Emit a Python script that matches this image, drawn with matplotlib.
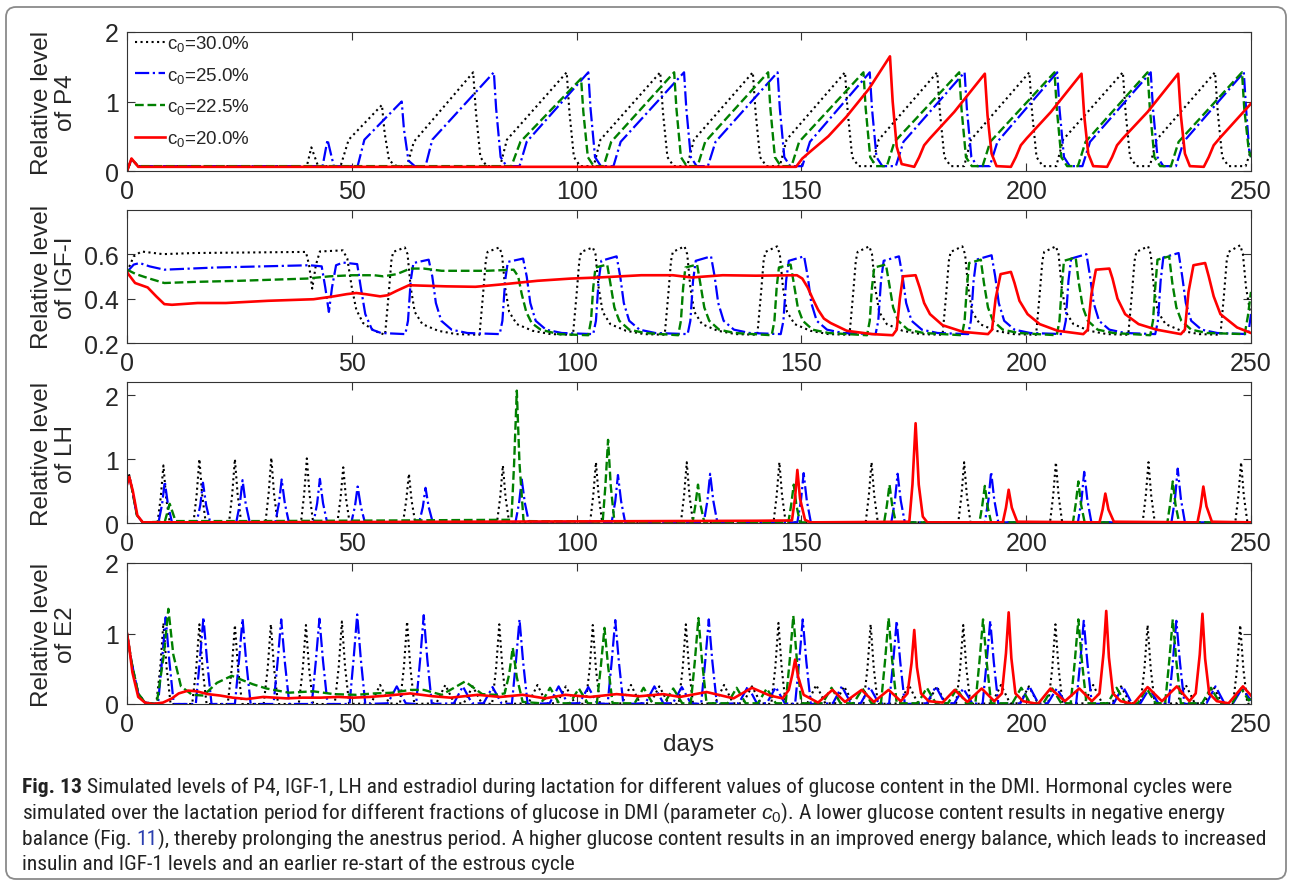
import matplotlib
matplotlib.use('Agg')
import matplotlib.pyplot as plt
from matplotlib.patches import FancyBboxPatch
from matplotlib.transforms import IdentityTransform
from matplotlib import font_manager as fm

# ---------------- data ----------------
series_labels = ['c$_0$=30.0%', 'c$_0$=25.0%', 'c$_0$=22.5%', 'c$_0$=20.0%']
panel_ylabels = ['Relative level\nof P4', 'Relative level\nof IGF-I',
                 'Relative level\nof LH', 'Relative level\nof E2']
x_ticks = [0, 50, 100, 150, 200, 250]
y_ticks = [[0, 1, 2], [0.2, 0.4, 0.6], [0, 1, 2], [0, 1, 2]]
y_ticklabels = [['0', '1', '2'], ['0.2', '0.4', '0.6'], ['0', '1', '2'], ['0', '1', '2']]
y_limits = [(0, 2), (0.2, 0.8), (0, 2.2), (0, 2)]
x_label = 'days'

# P4 (day, level)
p4_c30 = [(0,0),(1,0.17),(2.5,0.07),(40,0.07),(41,0.34),(42.5,0.07),(47.5,0.07),(49.3,0.45),(56.7,0.95),(57.3,0.55),(58.3,0.15),(60,0.07),(62.3,0.07),(63.8,0.42),
(77.0,1.42),(77.6,0.85),(78.6,0.2),(80.0,0.07),(83.0,0.07),(84.5,0.45),
(97.8,1.42),(98.4,0.85),(99.4,0.2),(100.8,0.07),(103.8,0.07),(105.3,0.45),
(118.6,1.42),(119.2,0.85),(120.2,0.2),(121.6,0.07),(124.6,0.07),(126.1,0.45),
(139.2,1.42),(139.8,0.85),(140.8,0.2),(142.2,0.07),(145.2,0.07),(146.7,0.45),
(159.7,1.42),(160.3,0.85),(161.3,0.2),(162.7,0.07),(165.7,0.07),(167.2,0.45),
(180.2,1.42),(180.8,0.85),(181.8,0.2),(183.2,0.07),(186.2,0.07),(187.7,0.45),
(200.7,1.42),(201.3,0.85),(202.3,0.2),(203.7,0.07),(206.7,0.07),(208.2,0.45),
(221.5,1.42),(222.1,0.85),(223.1,0.2),(224.5,0.07),(227.5,0.07),(229.0,0.45),
(242.0,1.42),(242.6,0.85),(243.6,0.2),(245.0,0.07),(248.8,0.07),(250,0.3)]
p4_c25 = [(0,0),(1,0.17),(2.5,0.07),(43.5,0.07),(44.6,0.45),(46.0,0.07),(51.3,0.07),(52.8,0.45),(61.1,1.0),(61.6,0.6),(62.6,0.15),(64.0,0.07),(66.4,0.07),(67.9,0.45),
(81.6,1.42),(82.1,0.9),(83.1,0.2),(84.4,0.07),(87.3,0.07),(88.9,0.42),
(102.6,1.42),(103.1,0.9),(104.1,0.2),(105.4,0.07),(108.2,0.07),(109.8,0.42),
(123.9,1.42),(124.4,0.9),(125.4,0.2),(126.7,0.07),(129.2,0.07),(130.9,0.42),
(144.7,1.42),(145.2,0.9),(146.2,0.2),(147.5,0.07),(150.2,0.07),(151.9,0.42),
(165.2,1.42),(165.7,0.9),(166.7,0.2),(168.0,0.07),(171.0,0.07),(172.7,0.42),
(186.3,1.42),(186.8,0.9),(187.8,0.2),(189.1,0.07),(191.9,0.07),(193.6,0.42),
(206.9,1.42),(207.4,0.9),(208.4,0.2),(209.7,0.07),(212.5,0.07),(214.2,0.42),
(227.7,1.42),(228.2,0.9),(229.2,0.2),(230.5,0.07),(233.3,0.07),(235.0,0.42),
(248.4,1.42),(248.9,0.9),(249.6,0.3),(250,0.2)]
p4_c225 = [(0,0),(1,0.17),(2.5,0.07),(85.5,0.07),(87.5,0.42),(101.0,1.33),(101.5,0.85),(102.5,0.2),(103.8,0.07),(106.0,0.07),(107.7,0.42),
(121.7,1.42),(122.2,0.9),(123.2,0.2),(124.5,0.07),(126.9,0.07),(128.6,0.42),
(142.6,1.42),(143.1,0.9),(144.1,0.2),(145.4,0.07),(147.8,0.07),(149.5,0.42),
(163.8,1.42),(164.3,0.9),(165.3,0.2),(166.6,0.07),(169.0,0.07),(170.7,0.42),
(185.1,1.42),(185.6,0.9),(186.6,0.2),(187.9,0.07),(190.3,0.07),(192.0,0.42),
(206.3,1.42),(206.8,0.9),(207.8,0.2),(209.1,0.07),(211.5,0.07),(213.2,0.42),
(227.0,1.42),(227.5,0.9),(228.5,0.2),(229.8,0.07),(232.2,0.07),(233.9,0.42),
(248.0,1.42),(248.5,0.9),(249.5,0.3),(250,0.2)]
p4_c20 = [(0,0),(1,0.18),(2.5,0.06),(148.8,0.06),(150.2,0.18),(151.8,0.27),(156.0,0.5),(160.0,0.78),(165.0,1.18),(169.7,1.65),(170.3,1.0),(171.2,0.35),(172.3,0.1),(175.1,0.06),
(176.2,0.2),(177.3,0.37),(178.6,0.47),(184.0,0.85),(190.8,1.4),(191.4,0.8),(192.3,0.25),(193.4,0.07),(196.6,0.06),
(197.7,0.2),(198.8,0.37),(200.1,0.47),(205.5,0.85),(212.3,1.4),(212.9,0.8),(213.8,0.25),(214.9,0.07),(218.0,0.06),
(219.1,0.2),(220.2,0.37),(221.5,0.47),(227.0,0.85),(233.8,1.4),(234.4,0.8),(235.3,0.25),(236.4,0.07),(239.5,0.06),
(240.6,0.2),(241.7,0.37),(243.0,0.47),(250.0,0.97)]

# IGF-I (day, level)
igf_c30 = [(0,0.52),(1.5,0.59),(3.2,0.612),(8,0.6),(15,0.605),(39.8,0.61),(40.5,0.55),(41.2,0.445),(42,0.55),(42.9,0.612),(48,0.617),(49,0.58),(50,0.45),(51,0.35),(52.5,0.29),(55,0.255),
(57.4,0.237),(58.2,0.42),(58.8,0.57),(59.2,0.61),(61.8,0.63),(62.4,0.6),(63.1,0.45),(64.0,0.34),(65.7,0.285),(69.2,0.255),(73.2,0.24),
(78.4,0.237),(79.2,0.42),(79.8,0.57),(80.2,0.61),(82.8,0.63),(83.4,0.6),(84.1,0.45),(85.0,0.34),(86.7,0.285),(90.2,0.255),(94.2,0.24),
(99.2,0.237),(100.0,0.42),(100.6,0.57),(101.0,0.61),(103.6,0.63),(104.2,0.6),(104.9,0.45),(105.8,0.34),(107.5,0.285),(111.0,0.255),(115.0,0.24),
(119.6,0.237),(120.4,0.42),(121.0,0.57),(121.4,0.61),(124.0,0.635),(124.6,0.6),(125.3,0.45),(126.2,0.34),(127.9,0.285),(131.4,0.255),(135.4,0.24),
(140.2,0.237),(141.0,0.42),(141.6,0.57),(142.0,0.61),(144.6,0.635),(145.2,0.6),(145.9,0.45),(146.8,0.34),(148.5,0.285),(152.0,0.255),(156.0,0.24),
(160.7,0.237),(161.5,0.42),(162.1,0.57),(162.5,0.61),(165.1,0.635),(165.7,0.6),(166.4,0.45),(167.3,0.34),(169.0,0.285),(172.5,0.255),(176.5,0.24),
(181.4,0.237),(182.2,0.42),(182.8,0.57),(183.2,0.61),(185.8,0.635),(186.4,0.6),(187.1,0.45),(188.0,0.34),(189.7,0.285),(193.2,0.255),(197.2,0.24),
(202.2,0.237),(203.0,0.42),(203.6,0.57),(204.0,0.61),(206.6,0.635),(207.2,0.6),(207.9,0.45),(208.8,0.34),(210.5,0.285),(214.0,0.255),(218.0,0.24),
(222.7,0.237),(223.5,0.42),(224.1,0.57),(224.5,0.61),(227.1,0.635),(227.7,0.6),(228.4,0.45),(229.3,0.34),(231.0,0.285),(234.5,0.255),(238.5,0.24),
(243.2,0.237),(244.0,0.42),(244.6,0.57),(245.0,0.61),(247.6,0.64),(248.2,0.6),(248.9,0.45),(249.8,0.34),(250,0.33)]
igf_c25 = [(0,0.52),(1.5,0.553),(2.8,0.56),(5,0.545),(8.3,0.53),(20,0.54),(40.6,0.55),(43.3,0.545),(44.1,0.45),(44.9,0.34),(45.6,0.45),(46.5,0.55),(48,0.562),(51.2,0.555),(52,0.45),(53,0.33),(54.5,0.26),(56.5,0.245),
(61.9,0.24),(62.5,0.3),(63.1,0.48),(63.7,0.56),(67.1,0.575),(67.9,0.5),(68.7,0.38),(69.9,0.3),(72.2,0.26),(75.7,0.245),
(82.9,0.24),(83.5,0.3),(84.1,0.48),(84.7,0.565),(88.1,0.58),(88.9,0.5),(89.7,0.38),(90.9,0.3),(93.2,0.26),(96.7,0.245),
(103.7,0.24),(104.3,0.3),(104.9,0.48),(105.5,0.57),(108.9,0.59),(109.7,0.5),(110.5,0.38),(111.7,0.3),(114.0,0.26),(117.5,0.245),
(124.7,0.24),(125.3,0.3),(125.9,0.48),(126.5,0.57),(129.9,0.59),(130.7,0.5),(131.5,0.38),(132.7,0.3),(135.0,0.26),(138.5,0.245),
(145.4,0.24),(146.0,0.3),(146.6,0.48),(147.2,0.57),(150.6,0.59),(151.4,0.5),(152.2,0.38),(153.4,0.3),(155.7,0.26),(159.2,0.245),
(166.5,0.24),(167.1,0.3),(167.7,0.48),(168.3,0.57),(171.7,0.59),(172.5,0.5),(173.3,0.38),(174.5,0.3),(176.8,0.26),(180.3,0.245),
(187.1,0.24),(187.7,0.3),(188.3,0.48),(188.9,0.575),(192.3,0.595),(193.1,0.5),(193.9,0.38),(195.1,0.3),(197.4,0.26),(200.9,0.245),
(208.2,0.24),(208.8,0.3),(209.4,0.48),(210.0,0.58),(213.4,0.6),(214.2,0.5),(215.0,0.38),(216.2,0.3),(218.5,0.26),(222.0,0.245),
(228.7,0.24),(229.3,0.3),(229.9,0.48),(230.5,0.585),(233.9,0.605),(234.7,0.5),(235.5,0.38),(236.7,0.3),(239.0,0.26),(242.5,0.245),
(249.4,0.24),(250,0.33)]
igf_c225 = [(0,0.53),(2,0.51),(5,0.49),(8.3,0.47),(15,0.475),(25,0.48),(40,0.49),(45,0.5),(50,0.505),(55,0.505),(57,0.5),(60,0.51),(63,0.535),(66,0.535),(70,0.525),(80,0.525),(86,0.53),(87,0.5),(87.8,0.42),(88.8,0.34),(90,0.29),(92,0.26),(96,0.24),
(102.6,0.235),(103.2,0.3),(103.7,0.45),(104.2,0.54),(106.8,0.553),(107.5,0.47),(108.4,0.36),(109.5,0.3),(111.7,0.26),(115.2,0.245),
(122.6,0.235),(123.2,0.3),(123.7,0.45),(124.2,0.54),(126.8,0.553),(127.5,0.47),(128.4,0.36),(129.5,0.3),(131.7,0.26),(135.2,0.245),
(143.4,0.235),(144.0,0.3),(144.5,0.45),(145.0,0.54),(147.6,0.553),(148.3,0.47),(149.2,0.36),(150.3,0.3),(152.5,0.26),(156.0,0.245),
(164.6,0.235),(165.2,0.3),(165.7,0.45),(166.2,0.54),(168.8,0.553),(169.5,0.47),(170.4,0.36),(171.5,0.3),(173.7,0.26),(177.2,0.245),
(185.7,0.235),(186.3,0.3),(186.8,0.45),(187.3,0.56),(189.9,0.575),(190.6,0.47),(191.5,0.36),(192.6,0.3),(194.8,0.26),(198.3,0.245),
(206.8,0.235),(207.4,0.3),(207.9,0.45),(208.4,0.57),(211.0,0.585),(211.7,0.47),(212.6,0.36),(213.7,0.3),(215.9,0.26),(219.4,0.245),
(227.6,0.235),(228.2,0.3),(228.7,0.45),(229.2,0.575),(231.8,0.59),(232.5,0.47),(233.4,0.36),(234.5,0.3),(236.7,0.26),(240.2,0.245),
(248.6,0.24),(249.3,0.32),(250,0.43)]
igf_c20 = [(0,0.52),(0.3,0.51),(1.8,0.47),(4.6,0.45),(6.5,0.41),(8.3,0.375),(10,0.372),(15.7,0.38),(22,0.38),(31.4,0.39),(41.5,0.397),(46,0.41),(48.9,0.42),(51,0.425),(53,0.42),(56.3,0.41),(58,0.415),(60,0.435),(62.7,0.46),(66,0.458),(71,0.455),(77.5,0.453),(84,0.465),(91.3,0.48),(98.7,0.49),(105,0.495),(114.4,0.505),(121.4,0.505),(125.6,0.495),(132.5,0.505),(139.9,0.503),(149,0.505),(150.2,0.49),(151.4,0.45),(152.5,0.4),(153.7,0.35),(155,0.31),(156.5,0.29),(160.1,0.255),(165.7,0.24),(170.3,0.235),
(171.2,0.26),(171.9,0.4),(172.6,0.5),(175.4,0.505),(176.3,0.45),(177.3,0.38),(178.6,0.33),(181.4,0.28),(186,0.25),(191.5,0.24),
(192.4,0.26),(193.2,0.4),(194.3,0.51),(196.6,0.52),(197.4,0.47),(198.5,0.39),(200.3,0.33),(203,0.285),(207,0.255),(212.7,0.24),
(213.7,0.26),(214.5,0.42),(215.5,0.53),(218.5,0.535),(219.2,0.49),(220.3,0.4),(222,0.33),(225,0.285),(229,0.26),(234.4,0.24),
(235.3,0.26),(236.1,0.43),(237.2,0.55),(239.8,0.56),(240.6,0.5),(241.7,0.41),(243.2,0.33),(246.9,0.27),(250,0.245)]

# LH (day, level)
lh_c30 = [(0,0.65),(0.5,0.75),(1.2,0.5),(2.2,0.12),(3.5,0.01),
(6.8,0.01),(7.5,0.4),(8.1,0.9),(8.7,0.4),(9.5,0.01),
(14.8,0.01),(15.5,0.45),(16.1,1.0),(16.7,0.45),(17.5,0.01),
(22.7,0.01),(23.4,0.45),(24.0,1.0),(24.6,0.45),(25.4,0.01),
(30.8,0.01),(31.5,0.46),(32.1,1.02),(32.7,0.46),(33.5,0.01),
(38.7,0.01),(39.4,0.45),(40.0,1.01),(40.6,0.45),(41.4,0.01),
(46.8,0.01),(47.5,0.39),(48.1,0.87),(48.7,0.39),(49.5,0.01),
(61.4,0.01),(62.1,0.35),(62.7,0.77),(63.3,0.35),(64.1,0.01),
(82.3,0.01),(83.0,0.4),(83.6,0.9),(84.2,0.4),(85.0,0.01),
(103.0,0.01),(103.7,0.43),(104.3,0.95),(104.9,0.43),(105.7,0.01),
(123.2,0.01),(123.9,0.43),(124.5,0.95),(125.1,0.43),(125.9,0.01),
(143.8,0.01),(144.5,0.43),(145.1,0.95),(145.7,0.43),(146.5,0.01),
(164.3,0.01),(165.0,0.43),(165.6,0.95),(166.2,0.43),(167.0,0.01),
(184.9,0.01),(185.6,0.43),(186.2,0.95),(186.8,0.43),(187.6,0.01),
(205.3,0.01),(206.0,0.43),(206.6,0.95),(207.2,0.43),(208.0,0.01),
(225.9,0.01),(226.6,0.43),(227.2,0.95),(227.8,0.43),(228.6,0.01),
(246.5,0.01),(247.2,0.43),(247.8,0.95),(248.4,0.43),(249.2,0.01),(250,0.01)]
lh_c25 = [(0,0.65),(0.5,0.72),(1.2,0.5),(2.2,0.12),(3.5,0.01),
(7.0,0.01),(7.8,0.29),(8.4,0.65),(9.1,0.29),(10.0,0.01),
(15.5,0.01),(16.3,0.28),(16.9,0.63),(17.6,0.28),(18.5,0.01),
(24.3,0.01),(25.1,0.3),(25.7,0.67),(26.4,0.3),(27.3,0.01),
(33.0,0.01),(33.8,0.31),(34.4,0.68),(35.1,0.31),(36.0,0.01),
(41.5,0.01),(42.3,0.31),(42.9,0.69),(43.6,0.31),(44.5,0.01),
(49.9,0.01),(50.7,0.26),(51.3,0.57),(52.0,0.26),(52.9,0.01),
(65.0,0.01),(65.8,0.25),(66.4,0.55),(67.1,0.25),(68.0,0.01),
(86.4,0.01),(87.2,0.31),(87.8,0.68),(88.5,0.31),(89.4,0.01),
(107.8,0.01),(108.6,0.34),(109.2,0.75),(109.9,0.34),(110.8,0.01),
(128.3,0.01),(129.1,0.35),(129.7,0.77),(130.4,0.35),(131.3,0.01),
(149.1,0.01),(149.9,0.35),(150.5,0.78),(151.2,0.35),(152.1,0.01),
(170.0,0.01),(170.8,0.35),(171.4,0.77),(172.1,0.35),(173.0,0.01),
(190.8,0.01),(191.6,0.36),(192.2,0.8),(192.9,0.36),(193.8,0.01),
(211.5,0.01),(212.3,0.36),(212.9,0.8),(213.6,0.36),(214.5,0.01),
(232.3,0.01),(233.1,0.38),(233.7,0.85),(234.4,0.38),(235.3,0.01),(250,0.01)]
lh_c225 = [(0,0.65),(0.5,0.72),(1.2,0.5),(2.2,0.12),(3.5,0.01),
(8.4,0.02),(9.5,0.3),(10.8,0.03),(30,0.03),(60,0.04),(84,0.05),
(85.5,0.05),(86.1,0.93),(86.7,2.07),(87.3,0.93),(88.2,0.03),
(105.8,0.02),(106.4,0.58),(107.0,1.3),(107.6,0.58),(108.4,0.02),
(125.8,0.01),(126.4,0.27),(127.0,0.6),(127.6,0.27),(128.4,0.01),
(147.1,0.01),(147.7,0.27),(148.3,0.6),(148.9,0.27),(149.7,0.01),
(168.4,0.01),(169.0,0.27),(169.6,0.6),(170.2,0.27),(171.0,0.01),
(189.6,0.01),(190.2,0.26),(190.8,0.58),(191.4,0.26),(192.2,0.01),
(210.4,0.01),(211.0,0.29),(211.6,0.65),(212.2,0.29),(213.0,0.01),
(231.4,0.01),(232.0,0.29),(232.6,0.65),(233.2,0.29),(234.0,0.01),(250,0.01)]
lh_c20 = [(0,0.6),(0.5,0.72),(1.3,0.5),(2.3,0.12),(3.5,0.01),(50,0.015),(100,0.025),(140,0.035),
(147.9,0.04),(148.6,0.4),(149.1,0.83),(149.7,0.38),(150.8,0.05),(152,0.01),
(174.0,0.02),(174.7,0.6),(175.4,1.56),(176.1,0.6),(177.0,0.1),(178,0.01),
(194.8,0.01),(195.5,0.24),(196.1,0.52),(196.8,0.24),(198,0.02),
(216.3,0.01),(217.0,0.21),(217.6,0.46),(218.3,0.21),(219.5,0.02),
(238.1,0.01),(238.8,0.26),(239.4,0.57),(240.1,0.26),(241.3,0.02),(250,0.01)]

# E2 (day, level)
e2_c30 = [(0,1.0),(1,0.6),(2.5,0.15),(4,0.02),(6.5,0.0),
(7.4,0.52),(8.1,1.15),(8.8,0.52),(9.7,0.0),
(14.5,0.0),(15.4,0.51),(16.1,1.13),(16.8,0.51),(17.7,0.0),
(22.4,0.0),(23.3,0.5),(24.0,1.12),(24.7,0.5),(25.6,0.0),
(30.4,0.0),(31.3,0.51),(32.0,1.13),(32.7,0.51),(33.6,0.0),
(38.2,0.0),(39.1,0.5),(39.8,1.12),(40.5,0.5),(41.4,0.0),
(46.2,0.0),(47.1,0.53),(47.8,1.17),(48.5,0.53),(49.4,0.0),
(54.3,0.01),(56.3,0.27),(58.3,0.01),
(60.7,0.0),(61.6,0.53),(62.3,1.17),(63.0,0.53),(63.9,0.0),
(68.8,0.01),(70.8,0.27),(72.8,0.01),(74.9,0.01),(76.9,0.25),(78.9,0.01),
(81.2,0.0),(82.1,0.51),(82.8,1.13),(83.5,0.51),(84.4,0.0),
(89.3,0.01),(91.3,0.27),(93.3,0.01),(95.6,0.01),(97.6,0.25),(99.6,0.01),
(102.0,0.0),(102.9,0.5),(103.6,1.12),(104.3,0.5),(105.2,0.0),
(110.1,0.01),(112.1,0.27),(114.1,0.01),(116.4,0.01),(118.4,0.25),(120.4,0.01),
(122.7,0.0),(123.6,0.51),(124.3,1.13),(125.0,0.51),(125.9,0.0),
(130.8,0.01),(132.8,0.27),(134.8,0.01),(137.0,0.01),(139.0,0.25),(141.0,0.01),
(143.3,0.0),(144.2,0.52),(144.9,1.15),(145.6,0.52),(146.5,0.0),
(151.3,0.01),(153.3,0.27),(155.3,0.01),(157.5,0.01),(159.5,0.25),(161.5,0.01),
(163.8,0.0),(164.7,0.51),(165.4,1.13),(166.1,0.51),(167.0,0.0),
(171.9,0.01),(173.9,0.27),(175.9,0.01),(178.1,0.01),(180.1,0.25),(182.1,0.01),
(184.4,0.0),(185.3,0.5),(186.0,1.12),(186.7,0.5),(187.6,0.0),
(192.4,0.01),(194.4,0.27),(196.4,0.01),(198.6,0.01),(200.6,0.25),(202.6,0.01),
(204.9,0.0),(205.8,0.51),(206.5,1.13),(207.2,0.51),(208.1,0.0),
(212.9,0.01),(214.9,0.27),(216.9,0.01),(219.1,0.01),(221.1,0.25),(223.1,0.01),
(225.4,0.0),(226.3,0.5),(227.0,1.12),(227.7,0.5),(228.6,0.0),
(233.5,0.01),(235.5,0.27),(237.5,0.01),(239.6,0.01),(241.6,0.25),(243.6,0.01),
(246.0,0.0),(246.9,0.5),(247.6,1.12),(248.3,0.5),(249.2,0.0),(250,0.01)]
e2_c25 = [(0,1.0),(1,0.6),(2.5,0.15),(4,0.02),(6.9,0.0),
(7.8,0.62),(8.6,1.23),(9.4,0.62),(10.4,0.0),
(15.3,0.0),(16.2,0.62),(17.0,1.23),(17.8,0.62),(18.8,0.0),
(24.0,0.0),(24.9,0.61),(25.7,1.21),(26.5,0.61),(27.5,0.0),
(32.6,0.0),(33.5,0.6),(34.3,1.2),(35.1,0.6),(36.1,0.0),
(41.1,0.0),(42.0,0.61),(42.8,1.21),(43.6,0.61),(44.6,0.0),
(49.5,0.0),(50.4,0.64),(51.2,1.27),(52.0,0.64),(53.0,0.0),
(58.0,0.01),(60.0,0.25),(62.0,0.01),
(64.3,0.0),(65.2,0.63),(66.0,1.26),(66.8,0.63),(67.8,0.0),
(72.7,0.01),(74.7,0.25),(76.7,0.01),(79.3,0.01),(81.3,0.24),(83.3,0.01),
(85.6,0.0),(86.5,0.6),(87.3,1.2),(88.1,0.6),(89.1,0.0),
(94.0,0.01),(96.0,0.25),(98.0,0.01),(100.6,0.01),(102.6,0.24),(104.6,0.01),
(106.9,0.0),(107.8,0.6),(108.6,1.19),(109.4,0.6),(110.4,0.0),
(115.3,0.01),(117.3,0.25),(119.3,0.01),(121.4,0.01),(123.4,0.24),(125.4,0.01),
(127.7,0.0),(128.6,0.6),(129.4,1.2),(130.2,0.6),(131.2,0.0),
(136.1,0.01),(138.1,0.25),(140.1,0.01),(142.3,0.01),(144.3,0.24),(146.3,0.01),
(148.6,0.0),(149.5,0.6),(150.3,1.2),(151.1,0.6),(152.1,0.0),
(157.0,0.01),(159.0,0.25),(161.0,0.01),(163.2,0.01),(165.2,0.24),(167.2,0.01),
(169.5,0.0),(170.4,0.59),(171.2,1.18),(172.0,0.59),(173.0,0.0),
(177.9,0.01),(179.9,0.25),(181.9,0.01),(184.0,0.01),(186.0,0.22),(188.0,0.01),
(190.3,0.0),(191.2,0.59),(192.0,1.18),(192.8,0.59),(193.8,0.0),
(198.7,0.01),(200.7,0.25),(202.7,0.01),(204.8,0.01),(206.8,0.22),(208.8,0.01),
(211.1,0.0),(212.0,0.59),(212.8,1.18),(213.6,0.59),(214.6,0.0),
(219.5,0.01),(221.5,0.25),(223.5,0.01),(225.4,0.01),(227.4,0.22),(229.4,0.01),
(231.7,0.0),(232.6,0.59),(233.4,1.18),(234.2,0.59),(235.2,0.0),
(240.1,0.01),(242.1,0.25),(244.1,0.01),(246.0,0.01),(248.0,0.22),(250,0.05)]
e2_c225 = [(0,1.0),(1,0.6),(2.5,0.15),(4,0.02),(6.6,0.0),(8.2,0.7),(9.2,1.35),(10.3,0.7),(12.0,0.25),(14.5,0.13),(17,0.12),(20,0.3),(23.3,0.4),(26,0.33),(28,0.28),(31,0.22),(36,0.16),(41.4,0.18),(46,0.14),(51,0.13),(55,0.15),(59,0.16),(63,0.2),(66,0.2),(70,0.13),(75.2,0.32),(79,0.14),(82,0.13),
(84.0,0.15),(85.0,0.42),(85.8,0.8),(86.7,0.38),(88.0,0.03),
(92.1,0.01),(94.1,0.23),(96.1,0.01),(98.5,0.01),(100.5,0.22),(102.5,0.01),
(104.5,0.01),(105.4,0.54),(106.2,1.08),(107.0,0.54),(108.0,0.01),
(112.9,0.01),(114.9,0.23),(116.9,0.01),(119.5,0.01),(121.5,0.22),(123.5,0.01),
(125.4,0.01),(126.3,0.61),(127.1,1.22),(127.9,0.61),(128.9,0.01),
(133.6,0.01),(135.6,0.23),(137.6,0.01),(140.3,0.01),(142.3,0.22),(144.3,0.01),
(146.5,0.01),(147.4,0.62),(148.2,1.25),(149.0,0.62),(150.0,0.01),
(154.7,0.01),(156.7,0.23),(158.7,0.01),(161.6,0.01),(163.6,0.22),(165.6,0.01),
(167.7,0.01),(168.6,0.61),(169.4,1.22),(170.2,0.61),(171.2,0.01),
(175.9,0.01),(177.9,0.23),(179.9,0.01),(182.6,0.01),(184.6,0.22),(186.6,0.01),
(188.7,0.01),(189.6,0.6),(190.4,1.2),(191.2,0.6),(192.2,0.01),
(196.9,0.01),(198.9,0.23),(200.9,0.01),(203.8,0.01),(205.8,0.22),(207.8,0.01),
(209.9,0.01),(210.8,0.6),(211.6,1.2),(212.4,0.6),(213.4,0.01),
(218.1,0.01),(220.1,0.23),(222.1,0.01),(224.8,0.01),(226.8,0.22),(228.8,0.01),
(230.9,0.01),(231.8,0.6),(232.6,1.2),(233.4,0.6),(234.4,0.01),
(239.1,0.01),(241.1,0.23),(243.1,0.01),(245.8,0.01),(247.8,0.22),(249.5,0.05),(250,0.08)]
e2_c20 = [(0,1.0),(0.5,0.8),(1.2,0.45),(2.5,0.1),(4,0.02),(5.8,0.0),(8,0.02),(10,0.08),(11.5,0.15),(13.6,0.19),(15.5,0.18),(18,0.14),(20.7,0.12),(23.5,0.09),(26.6,0.07),(30.3,0.1),(35.5,0.08),(39,0.09),(43,0.09),(47,0.1),(50.3,0.09),(54,0.1),(58,0.12),(63,0.15),(68,0.11),(72,0.09),(78,0.13),(83,0.1),(88,0.13),(93,0.08),(97.5,0.13),(103,0.1),(108.9,0.14),(114,0.11),(119.3,0.14),(123,0.1),(128.9,0.17),(134.9,0.08),(139,0.23),(143,0.12),(145.8,0.08),
(147.2,0.2),(148.0,0.42),(148.6,0.63),(149.3,0.38),(150.5,0.13),(153.7,0.02),(156.9,0.2),(159.7,0.03),(163.4,0.2),(166.1,0.03),(169.4,0.2),(172.1,0.04),
(173.6,0.15),(174.5,0.58),(175.1,1.05),(175.7,0.52),(176.6,0.15),(178.3,0.04),(181.4,0.02),(184.1,0.2),(186.9,0.03),(190.1,0.22),(192.9,0.04),
(194.6,0.15),(195.5,0.72),(196.1,1.3),(196.7,0.65),(197.6,0.15),(199.3,0.04),(202.6,0.0),(205.4,0.22),(208.6,0.04),(211.8,0.22),(214.6,0.04),
(216.3,0.15),(217.2,0.72),(217.8,1.32),(218.4,0.66),(219.3,0.15),(221.0,0.04),(223.8,0.0),(227,0.24),(230.2,0.04),(233.5,0.25),(236.3,0.04),
(237.7,0.15),(238.6,0.7),(239.2,1.28),(239.8,0.64),(240.7,0.15),(242.4,0.04),(245,0.01),(248.2,0.25),(250,0.12)]

panels = [[p4_c30, p4_c25, p4_c225, p4_c20],
          [igf_c30, igf_c25, igf_c225, igf_c20],
          [lh_c30, lh_c25, lh_c225, lh_c20],
          [e2_c30, e2_c25, e2_c225, e2_c20]]

# caption pieces: (text, style, space after)
caption_lines = [
    [("Fig. 13", dict(weight='bold'), True),
     ("Simulated levels of P4, IGF-1, LH and estradiol during lactation for different values of glucose content in the DMI. Hormonal cycles were", {}, False)],
    [("simulated over the lactation period for different fractions of glucose in DMI (parameter $\\mathit{c}_0$). A lower glucose content results in negative energy", {}, False)],
    [("balance (Fig.", {}, True), ("11", dict(color='#2b3fb0'), False),
     ("), thereby prolonging the anestrus period. A higher glucose content results in an improved energy balance, which leads to increased", {}, False)],
    [("insulin and IGF-1 levels and an earlier re-start of the estrous cycle", {}, False)],
]

# ---------------- styling ----------------
W, H = 1292, 887
TXT = '#262626'
plt.rcParams['font.family'] = ['Liberation Sans', 'DejaVu Sans']
plt.rcParams['mathtext.fontset'] = 'custom'
plt.rcParams['mathtext.rm'] = 'Liberation Sans'
plt.rcParams['mathtext.it'] = 'Liberation Sans:italic'

styles = [dict(color='black', ls=':', lw=1.5),
          dict(color=(0, 0, 1), ls='-.', lw=1.6),
          dict(color=(0, 0.5, 0), ls='--', lw=1.7),
          dict(color=(1, 0, 0), ls='-', lw=1.9)]

fig = plt.figure(figsize=(W / 100, H / 100), dpi=100)
fig.patch.set_facecolor('white')

frame = FancyBboxPatch((6, H - 880), 1280, 872, boxstyle='round,pad=0,rounding_size=10',
                       transform=IdentityTransform(), facecolor='none',
                       edgecolor='#8a8a8a', linewidth=1.3)
fig.patches.append(frame)

axes_px = [(33, 172), (210.7, 344), (383.3, 524), (564, 705)]
left_px, right_px = 127, 1251

for i, (top, bot) in enumerate(axes_px):
    ax = fig.add_axes([left_px / W, 1 - bot / H, (right_px - left_px) / W, (bot - top) / H])
    for j, ser in enumerate(panels[i]):
        xs = [p[0] for p in ser]
        ys = [p[1] for p in ser]
        ax.plot(xs, ys, label=series_labels[j], **styles[j])
    ax.set_xlim(0, 250)
    ax.set_ylim(*y_limits[i])
    ax.set_xticks(x_ticks)
    ax.set_xticklabels([str(t) for t in x_ticks])
    ax.set_yticks(y_ticks[i])
    ax.set_yticklabels(y_ticklabels[i])
    ax.tick_params(direction='in', top=True, right=True, length=6, width=0.8,
                   color='#333333', labelcolor=TXT, labelsize=18, pad=6)
    for s in ax.spines.values():
        s.set_color('#333333')
        s.set_linewidth(0.8)
    fig.text(54 / W, 1 - (top + bot) / 2 / H, panel_ylabels[i], rotation=90,
             ha='center', va='center', multialignment='center', fontsize=17.5,
             color=TXT, linespacing=1.15)
    if i == 0:
        ax.legend(loc='upper left', bbox_to_anchor=(0.0, 1.045), frameon=False,
                  fontsize=13.5, handlelength=1.6, handletextpad=0.15,
                  labelspacing=0.62, borderaxespad=0, borderpad=0.4,
                  labelcolor=TXT)

fig.text(689 / W, 1 - 745 / H, x_label, ha='center', va='center', fontsize=17.5, color=TXT)

# ---------------- caption ----------------
def have_font(name):
    try:
        fm.findfont(fm.FontProperties(family=name), fallback_to_default=False)
        return True
    except Exception:
        return False

cap_font = 'Open Sans'
for cand in ['Liberation Sans Narrow', 'Roboto Condensed', 'Open Sans Condensed', 'Open Sans']:
    if have_font(cand):
        cap_font = cand
        break

renderer = fig.canvas.get_renderer()

def width_px(s, size, **kw):
    t = fig.text(0, 0, s, fontsize=size, family=[cap_font, 'DejaVu Sans'], **kw)
    w = t.get_window_extent(renderer=renderer).width
    t.remove()
    return w

def line_width(pieces, size):
    sp = width_px('a a', size) - width_px('aa', size)
    tot = 0
    for s, kw, space_after in pieces:
        tot += width_px(s, size, **kw)
        if space_after:
            tot += sp
    return tot

test = 12.0
w_test = line_width(caption_lines[0], test)
cap_size = test * (1232 - 22) / w_test

baselines = [793, 819, 845, 870]
sp_cap = width_px('a a', cap_size) - width_px('aa', cap_size)
for pieces, yb in zip(caption_lines, baselines):
    x = 22
    for s, kw, space_after in pieces:
        kw2 = dict(color='#222222')
        kw2.update(kw)
        t = fig.text(x / W, 1 - yb / H, s, fontsize=cap_size, family=[cap_font, 'DejaVu Sans'],
                     ha='left', va='baseline', **kw2)
        x += t.get_window_extent(renderer=renderer).width
        if space_after:
            x += sp_cap

fig.savefig('out.png', dpi=100, facecolor='white')
